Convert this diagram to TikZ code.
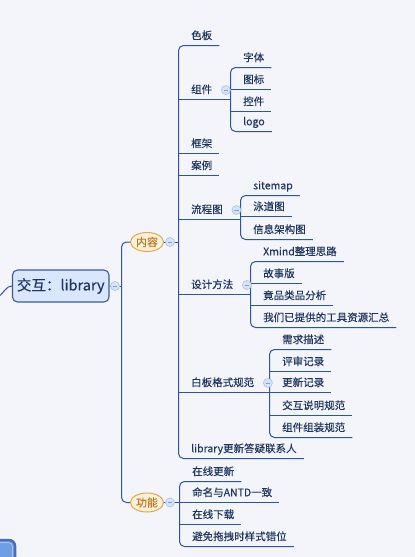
\documentclass[tikz,border=0pt]{standalone}
\usepackage{fontspec}
\setmainfont{Noto Sans CJK SC}[FakeBold=0.25]
\usetikzlibrary{calc,shapes.geometric}
\definecolor{bg}{HTML}{F4F5FA}
\definecolor{ln}{HTML}{2E5597}
\definecolor{tx}{HTML}{1E3560}
\definecolor{mfill}{HTML}{D9E6FB}
\definecolor{mdraw}{HTML}{3B5C94}
\definecolor{efill}{HTML}{FDF1D8}
\definecolor{edraw}{HTML}{E2A652}
\definecolor{etext}{HTML}{C07826}
\definecolor{cfill}{HTML}{D6E3F8}
\definecolor{cdraw}{HTML}{A9C2EA}
\definecolor{cminus}{HTML}{7F9ED2}
\definecolor{sfill}{HTML}{6E9FE6}
\definecolor{sdraw}{HTML}{4A6CC0}
\definecolor{sring}{HTML}{A8C8F0}
\begin{document}
\begin{tikzpicture}[x=1pt,y=-1pt,
  leaf/.style={anchor=south west, inner xsep=7pt, inner ysep=0pt,
    text depth=6pt, text height=8pt, text=tx,
    font=\fontsize{10.5}{12}\selectfont,
    execute at begin node={\hspace{5.5pt}}},
  conn/.style={draw=ln, line width=1pt, rounded corners=5pt},
  cbtn/.style={circle, minimum size=9pt, inner sep=0pt, fill=cfill,
    draw=cdraw, line width=0.6pt,
    path picture={\draw[cminus, line width=0.8pt]
      ([xshift=-2.2pt]path picture bounding box.center) --
      ([xshift=2.2pt]path picture bounding box.center);}},
  mainbox/.style={rectangle, rounded corners=5pt, minimum width=96.5pt,
    minimum height=32pt, inner sep=0pt, fill=mfill, draw=mdraw,
    line width=1.1pt, text=tx, font=\fontsize{14.5}{16}\selectfont},
  ell/.style={ellipse, minimum width=33pt, minimum height=19pt,
    inner sep=0pt, fill=efill, draw=edraw, line width=1pt, text=etext,
    font=\fontsize{11}{13}\selectfont}
]
\useasboundingbox (0,0) rectangle (415,557);
\fill[bg] (0,0) rectangle (415,557);
\clip (0,0) rectangle (415,557);

% partial node at bottom left
\draw[draw=sdraw, line width=2.5pt, fill=sfill, rounded corners=6pt]
  (-40,540) rectangle (15,600);
\draw[draw=sring, line width=0.8pt, rounded corners=4pt]
  (-40,542.5) rectangle (12.5,600);

% root and main branches
\node[mainbox] (root) at (60.75,286) {交互：library};
\node[ell] (nr) at (147,242) {内容};
\node[ell] (gn) at (147,502.5) {功能};
\coordinate (mj) at (121.5,286);
\coordinate (lin) at (-4,299);
\draw[conn] (lin) .. controls (5,292) and (6,286) .. (root.west);
\draw[conn] (nr.west) -- (nr.west -| mj) -- (gn.west -| mj) -- (gn.west);
\draw[conn] (root.east) -- (mj);

% 内容 children
\node[leaf] (a1) at (178.5,45.5) {色板};
\node[leaf] (a2) at (178.5,99.5) {组件};
\node[leaf] (a3) at (178.5,153.5) {框架};
\node[leaf] (a4) at (178.5,175.5) {案例};
\node[leaf] (a5) at (178.5,219.5) {流程图};
\node[leaf] (a6) at (178.5,294.5) {设计方法};
\node[leaf] (a7) at (178.5,392.5) {白板格式规范};
\node[leaf] (a8) at (178.5,458.5) {library更新答疑联系人};
\draw[conn] (a1.south east) -- (a1.south west) -- (a8.south west) -- (a8.south east);
\draw[conn] (nr.east) -- (nr.east -| a1.south west);
\draw[conn] (a3.south west) -- (a3.south east);
\draw[conn] (a4.south west) -- (a4.south east);

% 组件
\coordinate (x2) at (230.5,99.5);
\node[leaf] (b1) at (230.5,67.5) {字体};
\node[leaf] (b2) at (230.5,89.5) {图标};
\node[leaf] (b3) at (230.5,111.5) {控件};
\node[leaf] (b4) at (230.5,131.5) {logo};
\draw[conn] (a2.south west) -- (x2);
\draw[conn] (b1.south east) -- (b1.south west) -- (b4.south west) -- (b4.south east);
\draw[conn] (b2.south west) -- (b2.south east);
\draw[conn] (b3.south west) -- (b3.south east);

% 流程图
\coordinate (x5) at (240.5,219.5);
\node[leaf] (c1) at (240.5,195.5) {sitemap};
\node[leaf] (c2) at (240.5,216.5) {泳道图};
\node[leaf] (c3) at (240.5,239.5) {信息架构图};
\draw[conn] (a5.south west) -- (x5);
\draw[conn] (c1.south east) -- (c1.south west) -- (c3.south west) -- (c3.south east);
\draw[conn] (c2.south west) -- (c2.south east);

% 设计方法
\coordinate (x6) at (250.5,294.5);
\node[leaf] (d1) at (250.5,261.5) {Xmind整理思路};
\node[leaf] (d2) at (250.5,283.5) {故事版};
\node[leaf] (d3) at (250.5,305.5) {竟品类品分析};
\node[leaf] (d4) at (250.5,327.5) {我们已提供的工具资源汇总};
\draw[conn] (a6.south west) -- (x6);
\draw[conn] (d1.south east) -- (d1.south west) -- (d4.south west) -- (d4.south east);
\draw[conn] (d2.south west) -- (d2.south east);
\draw[conn] (d3.south west) -- (d3.south east);

% 白板格式规范
\coordinate (x7) at (269.5,392.5);
\node[leaf] (e1) at (269.5,349.5) {需求描述};
\node[leaf] (e2) at (269.5,371.5) {评审记录};
\node[leaf] (e3) at (269.5,392.5) {更新记录};
\node[leaf] (e4) at (269.5,415.5) {交互说明规范};
\node[leaf] (e5) at (269.5,437.5) {组件组装规范};
\draw[conn] (a7.south west) -- (x7);
\draw[conn] (e1.south east) -- (e1.south west) -- (e5.south west) -- (e5.south east);
\draw[conn] (e2.south west) -- (e2.south east);
\draw[conn] (e3.south west) -- (e3.south east);
\draw[conn] (e4.south west) -- (e4.south east);

% 功能 children
\node[leaf] (f1) at (179.5,481.5) {在线更新};
\node[leaf] (f2) at (179.5,502.5) {命名与ANTD一致};
\node[leaf] (f3) at (179.5,524.5) {在线下载};
\node[leaf] (f4) at (179.5,546.5) {避免拖拽时样式错位};
\draw[conn] (f1.south east) -- (f1.south west) -- (f4.south west) -- (f4.south east);
\draw[conn] (gn.east) -- (f2.south west) -- (f2.south east);
\draw[conn] (f3.south west) -- (f3.south east);

% collapse buttons
\node[cbtn] (k0) at (115,286) {};
\node[cbtn] (k1) at (170,242) {};
\node[cbtn] (k2) at (170,502.5) {};
\node[cbtn] (k3) at ([shift={(6.5pt,9.5pt)}]a2.south east) {};
\node[cbtn] (k4) at ([shift={(6.5pt,9.5pt)}]a5.south east) {};
\node[cbtn] (k5) at ([shift={(6.5pt,9.5pt)}]a6.south east) {};
\node[cbtn] (k6) at ([shift={(6.5pt,9.5pt)}]a7.south east) {};
\end{tikzpicture}
\end{document}
